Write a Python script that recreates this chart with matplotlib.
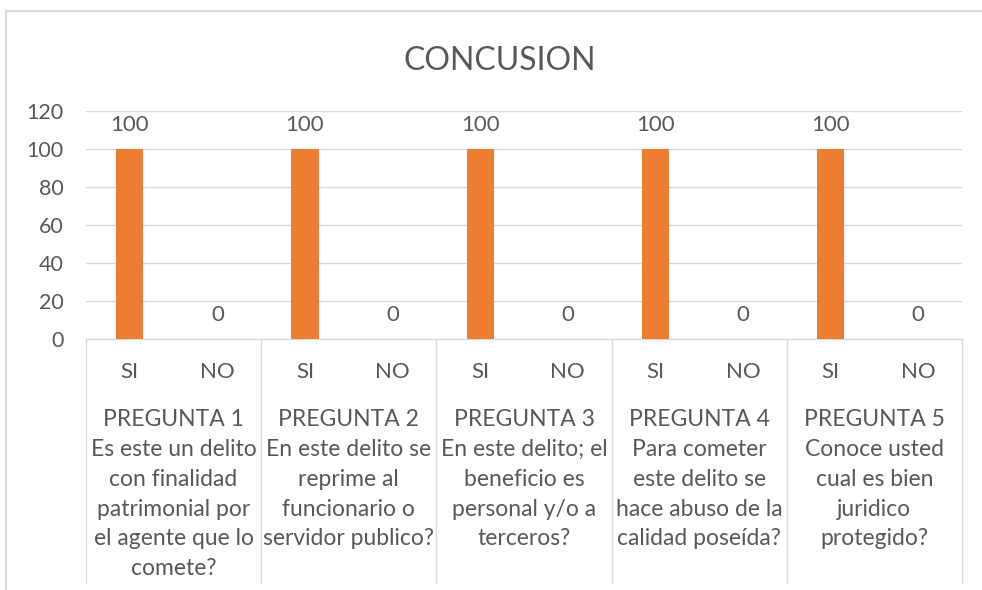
import matplotlib.pyplot as plt
import matplotlib.transforms as mtransforms
from matplotlib.lines import Line2D

# datos del grafico
titulo = "CONCUSION"
respuestas = ["SI", "NO", "SI", "NO", "SI", "NO", "SI", "NO", "SI", "NO"]
valores = [100, 0, 100, 0, 100, 0, 100, 0, 100, 0]
preguntas = [
    "PREGUNTA 1\nEs este un delito\ncon finalidad\npatrimonial por\nel agente que lo\ncomete?",
    "PREGUNTA 2\nEn este delito se\nreprime al\nfuncionario o\nservidor publico?",
    "PREGUNTA 3\nEn este delito; el\nbeneficio es\npersonal y/o a\nterceros?",
    "PREGUNTA 4\nPara cometer\neste delito se\nhace abuso de la\ncalidad poseída?",
    "PREGUNTA 5\nConoce usted\ncual es bien\njuridico\nprotegido?",
]
yticks = [0, 20, 40, 60, 80, 100, 120]

plt.rcParams['font.family'] = ['Lato', 'DejaVu Sans']
gris = '#595959'
linea = '#d9d9d9'
naranja = '#ED7D31'

fig = plt.figure(figsize=(9.82, 5.9), dpi=100)
ax = fig.add_axes([86 / 982, 1 - 339 / 590, 876 / 982, 228 / 590])

x = list(range(len(valores)))
bars = ax.bar(x, valores, width=0.31, color=naranja, zorder=3)
for xi, v in zip(x, valores):
    ax.annotate(str(v), (xi, v), xytext=(0, 17), textcoords='offset points',
                ha='center', va='center', fontsize=16, color=gris)

ax.set_xlim(-0.5, len(valores) - 0.5)
ax.set_ylim(0, 120)
ax.set_yticks(yticks)
ax.tick_params(axis='y', length=0, labelsize=15.5, labelcolor=gris, pad=16)
ax.yaxis.grid(True, color=linea, linewidth=1)
ax.set_axisbelow(True)
for s in ax.spines.values():
    s.set_visible(False)

ax.set_xticks(x)
ax.set_xticklabels(respuestas)
ax.tick_params(axis='x', length=0, labelsize=16, labelcolor=gris, pad=16.5)

# eje de categorias en dos niveles
tr = mtransforms.blended_transform_factory(ax.transData, ax.transAxes)
ax.add_line(Line2D([-0.5, len(valores) - 0.5], [0, 0], transform=tr,
                   color=linea, linewidth=1, clip_on=False))
for g in range(len(preguntas) + 1):
    xs = g * 2 - 0.5
    ax.add_line(Line2D([xs, xs], [0, -244 / 228], transform=tr,
                       color=linea, linewidth=1, clip_on=False))
for g, txt in enumerate(preguntas):
    ax.text(g * 2 + 0.5, -(409 - 339) / 228, txt, transform=tr, ha='center',
            va='top', fontsize=16.5, color=gris, linespacing=1.52)

fig.text(500 / 982, 1 - 61 / 590, titulo, ha='center', va='center',
         fontsize=23, color=gris)

# borde del grafico
fig.add_artist(Line2D([6 / 982, 1], [1 - 11 / 590, 1 - 11 / 590],
                      transform=fig.transFigure, color=linea, linewidth=1.5))
fig.add_artist(Line2D([6 / 982, 6 / 982], [1 - 11 / 590, 0],
                      transform=fig.transFigure, color=linea, linewidth=1.5))

fig.savefig("out.png", dpi=100)
